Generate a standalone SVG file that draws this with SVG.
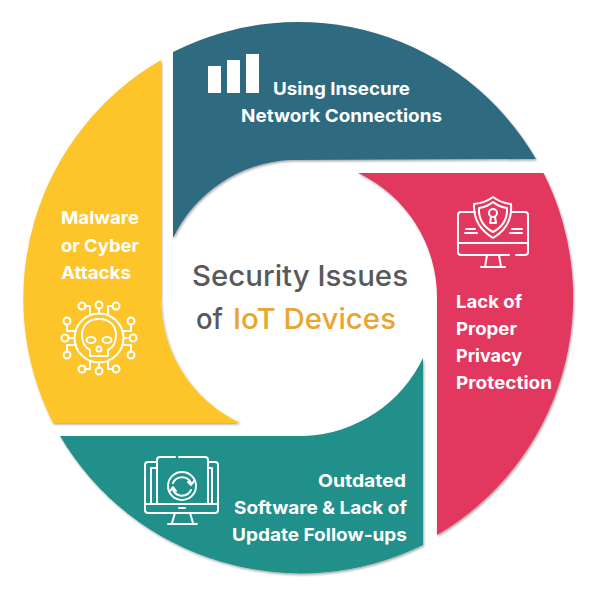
<svg xmlns="http://www.w3.org/2000/svg" width="600" height="600" viewBox="0 0 600 600">
<style>
.t{font-family:"Inter","Liberation Sans",sans-serif;font-weight:700;font-size:18px;fill:#fff;}
.h{font-family:"Inter","Liberation Sans",sans-serif;font-weight:500;font-size:29px;}
.i{fill:none;stroke:#fff;stroke-width:2;stroke-linecap:round;stroke-linejoin:round;}
.s{filter:url(#sh);}
</style>
<defs>
<filter id="sh" x="-5%" y="-5%" width="110%" height="110%"><feDropShadow dx="1" dy="1.5" stdDeviation="1" flood-color="#000" flood-opacity="0.35"/></filter>
</defs>
<rect width="600" height="600" fill="#fff"/>
<g id="node-network">
<path class="s" fill="#2e6a80" d="M173 52A275.500 275.500 0 0 1 536 159L290 160A137.500 137.500 0 0 0 173 238Z"/>
<rect x="208" y="66" width="13" height="27" fill="#fff"/><rect x="227" y="60" width="13" height="33" fill="#fff"/><rect x="246" y="54" width="13" height="39" fill="#fff"/>
<text class="t" x="273" y="95" textLength="137" lengthAdjust="spacingAndGlyphs">Using Insecure</text>
<text class="t" x="241" y="122" textLength="201" lengthAdjust="spacingAndGlyphs">Network Connections</text>
</g>
<g id="node-privacy">
<path class="s" fill="#e2395e" d="M358 173L543.500 173A275.500 275.500 0 0 1 437 535L437 297.500A137.500 137.500 0 0 0 358 173Z"/>
<g class="i">
<path d="M475 212H461Q458 212 458 215V252Q458 255 461 255H509M516 255H525Q528 255 528 252V215Q528 212 525 212H511"/>
<path d="M458 243H528M487 255L485 267M499 255L501 267M481 267H505"/>
<path d="M493 197Q485 203 474 204Q473 226 493 238Q513 226 511 204Q501 203 493 197Z"/>
<path d="M493 202Q487 207 479 208Q478 224 493 232Q508 224 507 208Q499 207 493 202Z"/>
<circle cx="493" cy="213" r="4"/><path d="M491 217L490 223H496L495 217"/>
<path d="M466 229H475M465 233H477M512 229H522M510 233H522"/>
</g>
<text class="t" x="456" y="308" textLength="66" lengthAdjust="spacingAndGlyphs">Lack of</text>
<text class="t" x="456" y="335" textLength="61" lengthAdjust="spacingAndGlyphs">Proper</text>
<text class="t" x="456" y="362" textLength="66" lengthAdjust="spacingAndGlyphs">Privacy</text>
<text class="t" x="456" y="389" textLength="96" lengthAdjust="spacingAndGlyphs">Protection</text>
</g>
<g id="node-outdated">
<path class="s" fill="#23908a" d="M423 358L423 545A279 279 0 0 1 60 436L305 436A137.500 137.500 0 0 0 423 358Z"/>
<g class="i">
<path d="M157 462H148Q145 462 145 465V510Q145 513 148 513H215Q218 513 218 510V465Q218 462 215 462H208"/>
<path d="M145 504H218M151 504V468H157M212 504V468H208"/>
<path d="M157 504V460Q157 457 160 457H175M179 457H205Q208 457 208 460V504"/>
<path d="M175 513L172 523M190 513L193 523M168 524H197M179 508H185"/>
<circle cx="182" cy="486" r="14"/>
<path d="M173 483A10 10 0 0 1 191 483M191 490A10 10 0 0 1 173 490"/>
<path d="M188 482L191 485L194 481M170 491L173 487L176 491"/>
</g>
<text class="t" x="318" y="487" textLength="88" lengthAdjust="spacingAndGlyphs">Outdated</text>
<text class="t" x="234" y="514" textLength="173" lengthAdjust="spacingAndGlyphs">Software &amp; Lack of</text>
<text class="t" x="232" y="541" textLength="175" lengthAdjust="spacingAndGlyphs">Update Follow-ups</text>
</g>
<g id="node-malware">
<path class="s" fill="#fdc52a" d="M161 60L161 297.500A137.500 137.500 0 0 0 240 423L53 423A275.500 275.500 0 0 1 161 60Z"/>
<g class="i">
<circle cx="99" cy="338" r="24.500"/>
<path d="M99 319C88 319 82 326 82 335C82 342 84 347 90 350V356H108V350C114 347 116 342 116 335C116 326 110 319 99 319Z"/>
<ellipse cx="91" cy="340" rx="4.500" ry="3"/><ellipse cx="107" cy="340" rx="4.500" ry="3"/>
<circle cx="99" cy="349" r="2.500"/>
<circle cx="82" cy="306" r="3.500"/><circle cx="99" cy="305" r="3.500"/><circle cx="116" cy="306" r="3.500"/>
<circle cx="82" cy="369" r="3.500"/><circle cx="99" cy="371" r="3.500"/><circle cx="116" cy="369" r="3.500"/>
<circle cx="67" cy="321" r="3.500"/><circle cx="65" cy="338" r="3.500"/><circle cx="67" cy="355" r="3.500"/>
<circle cx="131" cy="321" r="3.500"/><circle cx="133" cy="338" r="3.500"/><circle cx="131" cy="355" r="3.500"/>
<path d="M99 308V313M85 306H90V315M113 306H108V315M99 368V363M85 369H90V361M113 369H108V361"/>
<path d="M67 324V331H76M68 338H74M67 352V345H76M131 324V331H122M130 338H124M131 352V345H122"/>
</g>
<text class="t" x="61" y="224" textLength="78" lengthAdjust="spacingAndGlyphs">Malware</text>
<text class="t" x="61" y="252" textLength="78" lengthAdjust="spacingAndGlyphs">or Cyber</text>
<text class="t" x="61" y="279" textLength="70" lengthAdjust="spacingAndGlyphs">Attacks</text>
</g>
<g id="node-center">
<text class="h" x="192" y="286" fill="#58595b" textLength="216" lengthAdjust="spacingAndGlyphs">Security Issues</text>
<text class="h" x="196" y="329" fill="#58595b" textLength="27" lengthAdjust="spacingAndGlyphs">of</text>
<text class="h" x="233" y="329" fill="#e8a530" textLength="163" lengthAdjust="spacingAndGlyphs">IoT Devices</text>
</g>
</svg>
